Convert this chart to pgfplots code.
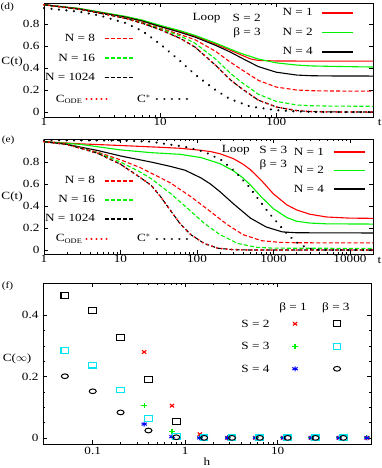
\documentclass[border=0pt]{standalone}
\usepackage{fontspec}
\setmainfont{Liberation Serif}[FakeStretch=1.2]
\usepackage{pgfplots}
\pgfplotsset{compat=1.18}

\definecolor{gred}{rgb}{1,0,0}
\definecolor{ggreen}{rgb}{0,0.95,0}
\definecolor{gblue}{rgb}{0,0,1}
\definecolor{gcyan}{rgb}{0,0.9,0.95}

\pgfplotsset{
  /pgf/number format/assume math mode=true,
  tick align=inside, major tick length=4bp, minor tick length=2bp,
  axis line style={line width=0.7pt},
  every tick/.style={line width=0.6pt, black},
  yticklabel style={xshift=-1bp},
  scale only axis,
  ovlax/.style={hide axis, width=329bp, anchor=north west,
    xmin=0, xmax=1, ymin=0, ymax=1,
    legend plot pos=right, legend cell align=right,
    legend style={draw=none, fill=none, inner sep=0pt, outer sep=0pt,
      row sep=7.5bp, column sep=8bp,
      nodes={inner sep=1bp, text height=8bp, text depth=2bp}}},
  lineleg/.style={legend image code/.code={\draw[##1] (0bp,0bp) -- (#1,0bp);}},
  markleg/.style={legend plot pos=left, legend cell align=left,
    legend image code/.code={\path[draw=none, fill=none] (-8bp,-0.1bp) rectangle (8bp,0.1bp); \draw[##1] plot coordinates {(0bp,0bp)};}},
  sol/.style={line width=1.1bp},
  dsh/.style={line width=1.1bp, dash pattern=on 4bp off 2.2bp},
  odedot/.style={line width=2.1bp, line cap=round, dash pattern=on 0.01bp off 5bp},
  stardot/.style={line width=2.4bp, line cap=round, dash pattern=on 0.01bp off 7.5bp},
  mx/.style={only marks, gred, mark=x, mark size=2.4bp, line width=1.1bp, mark options={xscale=1.25}},
  mp/.style={only marks, ggreen, mark=+, mark size=2.5bp, line width=1.1bp, mark options={xscale=1.2}},
  ma/.style={only marks, gblue, mark=asterisk, mark size=2.5bp, line width=1bp, mark options={xscale=1.25}},
  msq/.style={only marks, #1, mark=square, mark size=2.85bp, line width=1.1bp, mark options={xscale=1.35}},
  mo/.style={only marks, black, mark=o, mark size=2.35bp, line width=1bp, mark options={xscale=1.5}},
}

\begin{document}
\begin{tikzpicture}[font=\fontsize{11bp}{13bp}\selectfont]
\useasboundingbox (0,0) rectangle (382bp,-468bp);

% ---------------- (d)
\begin{axis}[xmode=log, width=329bp, at={(44bp,-3bp)}, anchor=north west, height=114bp,
  clip=false,
  xmin=1, xmax=680, ymin=-0.045, ymax=0.991,
  xtick={1,10,100}, xticklabels={1,10,100},
  xticklabel style={yshift=2.5bp},
  ytick={0,0.2,0.4,0.6,0.8}]
\addplot[gred, sol] coordinates {(1,0.975)(2,0.94)(3,0.907)(5,0.866)(7,0.832)(10,0.782)(15,0.732)(20,0.69)(30,0.617)(40,0.563)(50,0.518)(60,0.483)(70,0.469)(100,0.464)(200,0.463)(680,0.463)};
\addplot[ggreen, sol] coordinates {(1,0.975)(2,0.942)(3,0.91)(5,0.87)(7,0.836)(10,0.788)(15,0.738)(20,0.697)(30,0.627)(40,0.573)(50,0.532)(70,0.482)(100,0.447)(150,0.427)(200,0.419)(300,0.415)(680,0.409)};
\addplot[black, sol] coordinates {(1,0.975)(2,0.938)(3,0.905)(5,0.863)(7,0.827)(10,0.777)(15,0.723)(20,0.681)(30,0.606)(40,0.546)(50,0.492)(70,0.413)(100,0.362)(150,0.336)(200,0.33)(300,0.328)(680,0.327)};
\addplot[gred, dsh] coordinates {(1,0.975)(2,0.936)(3,0.902)(5,0.858)(7,0.818)(10,0.763)(15,0.703)(20,0.657)(30,0.552)(40,0.455)(50,0.387)(70,0.288)(100,0.227)(150,0.2)(200,0.194)(300,0.191)(680,0.19)};
\addplot[ggreen, dsh] coordinates {(1,0.975)(2,0.935)(3,0.9)(5,0.855)(7,0.812)(10,0.757)(15,0.69)(20,0.625)(30,0.482)(40,0.355)(50,0.272)(70,0.162)(100,0.097)(150,0.064)(200,0.057)(300,0.054)(680,0.052)};
\addplot[black, dsh] coordinates {(1,0.975)(2,0.935)(3,0.9)(5,0.852)(7,0.807)(10,0.748)(15,0.668)(20,0.59)(30,0.425)(40,0.295)(50,0.215)(70,0.108)(100,0.046)(150,0.013)(200,0.004)(300,0.001)(680,0)};
\addplot[gred, odedot] coordinates {(1,0.975)(2,0.935)(3,0.9)(5,0.852)(7,0.807)(10,0.748)(15,0.668)(20,0.59)(30,0.425)(40,0.295)(50,0.215)(70,0.108)(100,0.046)(150,0.013)(200,0.004)(300,0.001)(680,0)};
\addplot[black, stardot] coordinates {(1,0.945)(2,0.912)(3,0.878)(5,0.81)(7,0.738)(10,0.618)(15,0.46)(20,0.34)(25,0.262)(30,0.2)(40,0.118)(60,0.05)(100,0.017)(150,0.005)(200,0.001)(300,0)(680,0)};
\node at (rel axis cs:-0.097,0.48) {C(t)};
\node at (rel axis cs:1.02,-0.044) {t};
\node[font=\fontsize{9.5bp}{11bp}\selectfont] at (rel axis cs:-0.112,0.96) {(d)};
\node at (rel axis cs:0.494,0.868) {Loop};
\node at (rel axis cs:0.616,0.868) {S = 2};
\node at (rel axis cs:0.617,0.74) {β = 3};
\end{axis}
\begin{axis}[ovlax, at={(44bp,-3bp)}, height=114bp, lineleg=31bp,
  legend style={at={(0.942,0.965)}, anchor=north east}]
\addlegendimage{gred, sol}\addlegendentry{N = 1}
\addlegendimage{ggreen, sol}\addlegendentry{N = 2}
\addlegendimage{black, sol}\addlegendentry{N = 4}
\end{axis}
\begin{axis}[ovlax, at={(44bp,-3bp)}, height=114bp, lineleg=30bp,
  legend style={at={(0.277,0.741)}, anchor=north east}]
\addlegendimage{gred, dsh}\addlegendentry{N = 8}
\addlegendimage{ggreen, dsh}\addlegendentry{N = 16}
\addlegendimage{black, dsh}\addlegendentry{N = 1024}
\end{axis}
\begin{axis}[ovlax, at={(44bp,-3bp)}, height=114bp, lineleg=25bp,
  legend style={at={(0.033,0.21)}, anchor=north west, column sep=2.5bp}]
\addlegendimage{gred, odedot}\addlegendentry{C\raisebox{-0.35ex}{\fontsize{7bp}{8bp}\selectfont ODE}}
\end{axis}
\begin{axis}[ovlax, at={(44bp,-3bp)}, height=114bp, lineleg=32bp,
  legend style={at={(0.28,0.21)}, anchor=north west, column sep=4bp}]
\addlegendimage{black, stardot}\addlegendentry{C$^{*}$}
\end{axis}

% ---------------- (e)
\begin{axis}[xmode=log, width=329bp, at={(44bp,-139bp)}, anchor=north west, height=115bp,
  clip=false,
  xmin=1, xmax=20000, ymin=-0.036, ymax=1.009,
  xtick={1,10,100,1000,10000}, xticklabels={1,10,100,1000,10000},
  xticklabel style={yshift=2.5bp},
  ytick={0,0.2,0.4,0.6,0.8}]
\addplot[gred, sol] coordinates {(1,0.985)(3,0.965)(10,0.95)(30,0.935)(60,0.925)(100,0.91)(150,0.895)(200,0.875)(300,0.83)(400,0.78)(500,0.73)(700,0.63)(1000,0.51)(1500,0.41)(2000,0.365)(3000,0.325)(5000,0.3)(10000,0.29)(20000,0.288)};
\addplot[ggreen, sol] coordinates {(1,0.985)(3,0.96)(10,0.91)(25,0.885)(60,0.87)(113,0.84)(200,0.785)(300,0.72)(400,0.655)(500,0.59)(700,0.48)(1000,0.375)(1500,0.295)(2000,0.262)(3000,0.245)(5000,0.238)(20000,0.236)};
\addplot[black, sol] coordinates {(1,0.985)(2,0.96)(5,0.905)(10,0.855)(25,0.8)(45,0.76)(70,0.725)(113,0.655)(150,0.6)(200,0.53)(300,0.42)(500,0.29)(800,0.21)(1300,0.165)(2000,0.157)(20000,0.155)};
\addplot[gred, dsh] coordinates {(1,0.985)(2,0.96)(5,0.89)(10,0.82)(18,0.75)(25,0.7)(45,0.61)(83,0.485)(150,0.35)(250,0.23)(400,0.14)(700,0.085)(1200,0.07)(2000,0.066)(20000,0.065)};
\addplot[ggreen, dsh] coordinates {(1,0.985)(2,0.96)(5,0.885)(10,0.8)(18,0.71)(25,0.65)(45,0.515)(75,0.38)(124,0.243)(200,0.14)(340,0.06)(600,0.025)(1000,0.017)(20000,0.015)};
\addplot[black, dsh] coordinates {(1,0.985)(2,0.96)(5,0.88)(10,0.78)(18,0.66)(25,0.59)(33,0.49)(45,0.36)(60,0.24)(83,0.14)(124,0.06)(186,0.017)(300,0.003)(500,0)(20000,0)};
\addplot[gred, odedot] coordinates {(1,0.985)(2,0.96)(5,0.88)(10,0.78)(18,0.66)(25,0.59)(33,0.49)(45,0.36)(60,0.24)(83,0.14)(124,0.06)(186,0.017)(300,0.003)(500,0)(20000,0)};
\addplot[black, stardot] coordinates {(1,0.998)(10,0.995)(25,0.985)(34,0.97)(68,0.94)(124,0.894)(206,0.82)(307,0.72)(460,0.59)(622,0.47)(842,0.35)(1195,0.227)(1540,0.14)(2080,0.06)(2840,0.015)(4000,0.002)(6000,0)(20000,0)};
\node at (rel axis cs:-0.097,0.496) {C(t)};
\node at (rel axis cs:1.02,-0.052) {t};
\node[font=\fontsize{9.5bp}{11bp}\selectfont] at (rel axis cs:-0.109,0.99) {(e)};
\node at (rel axis cs:0.583,0.904) {Loop};
\node at (rel axis cs:0.697,0.904) {S = 3};
\node at (rel axis cs:0.697,0.774) {β = 3};
\end{axis}
\begin{axis}[ovlax, at={(44bp,-139bp)}, height=115bp, lineleg=31bp,
  legend style={at={(0.976,0.939)}, anchor=north east, row sep=6.5bp}]
\addlegendimage{gred, sol}\addlegendentry{N = 1}
\addlegendimage{ggreen, sol}\addlegendentry{N = 2}
\addlegendimage{black, sol}\addlegendentry{N = 4}
\end{axis}
\begin{axis}[ovlax, at={(44bp,-139bp)}, height=115bp, lineleg=30bp,
  legend style={at={(0.277,0.687)}, anchor=north east, row sep=7bp}]
\addlegendimage{gred, dsh}\addlegendentry{N = 8}
\addlegendimage{ggreen, dsh}\addlegendentry{N = 16}
\addlegendimage{black, dsh}\addlegendentry{N = 1024}
\end{axis}
\begin{axis}[ovlax, at={(44bp,-139bp)}, height=115bp, lineleg=25bp,
  legend style={at={(0.033,0.183)}, anchor=north west, column sep=2.5bp}]
\addlegendimage{gred, odedot}\addlegendentry{C\raisebox{-0.35ex}{\fontsize{7bp}{8bp}\selectfont ODE}}
\end{axis}
\begin{axis}[ovlax, at={(44bp,-139bp)}, height=115bp, lineleg=32bp,
  legend style={at={(0.28,0.183)}, anchor=north west, column sep=4bp}]
\addlegendimage{black, stardot}\addlegendentry{C$^{*}$}
\end{axis}

% ---------------- (f)
\begin{axis}[xmode=log, at={(43bp,-283bp)}, anchor=north west, width=328bp, height=161bp,
  clip=false,
  xmin=0.029, xmax=102, ymin=-0.02, ymax=0.505,
  xtick={0.1,1,10}, xticklabels={0.1,1,10},
  ytick={0,0.2,0.4}, minor y tick num=3]
\addplot[mx] coordinates {(0.36,0.28)(0.72,0.105)(1.44,0.012)(2.88,0)(5.76,0)(11.52,0)(23.04,0)(46.08,0)(92.16,0)};
\addplot[mp] coordinates {(0.36,0.107)(0.72,0.02)(1.44,0)(2.88,0)(5.76,0)(11.52,0)(23.04,0)(46.08,0)(92.16,0)};
\addplot[ma] coordinates {(0.36,0.045)(0.72,0.004)(1.44,0)(2.88,0)(5.76,0)(11.52,0)(23.04,0)(46.08,0)(92.16,0)};
\addplot[msq=black] coordinates {(0.05,0.464)(0.1,0.415)(0.2,0.327)(0.4,0.19)(0.8,0.053)(1.6,0)(3.2,0)(6.4,0)(12.8,0)(25.6,0)(51.2,0)};
\addplot[msq=gcyan] coordinates {(0.05,0.285)(0.1,0.237)(0.2,0.156)(0.4,0.064)(0.8,0.005)(1.6,0)(3.2,0)(6.4,0)(12.8,0)(25.6,0)(51.2,0)};
\addplot[mo] coordinates {(0.05,0.201)(0.1,0.152)(0.2,0.083)(0.4,0.024)(0.8,0.002)(1.6,0)(3.2,0)(6.4,0)(12.8,0)(25.6,0)(51.2,0)};
\node at (rel axis cs:-0.079,0.526) {C(\ensuremath{\infty})};
\node at (rel axis cs:0.5,-0.11) {h};
\node[font=\fontsize{9.5bp}{11bp}\selectfont] at (rel axis cs:-0.108,0.978) {(f)};
\node at (rel axis cs:0.762,0.845) {β = 1};
\node at (rel axis cs:0.893,0.845) {β = 3};
\node[anchor=east] at (rel axis cs:0.701,0.745) {S = 2};
\node[anchor=east] at (rel axis cs:0.701,0.609) {S = 3};
\node[anchor=east] at (rel axis cs:0.701,0.466) {S = 4};
\end{axis}
\begin{axis}[ovlax, markleg, at={(43bp,-283bp)}, width=328bp, height=161bp,
  legend style={at={(0.744,0.784)}, anchor=north west, row sep=10.5bp, column sep=0bp}]
\addlegendimage{mx}\addlegendentry{}
\addlegendimage{mp}\addlegendentry{}
\addlegendimage{ma}\addlegendentry{}
\end{axis}
\begin{axis}[ovlax, markleg, at={(43bp,-283bp)}, width=328bp, height=161bp,
  legend style={at={(0.872,0.784)}, anchor=north west, row sep=10.5bp, column sep=0bp}]
\addlegendimage{msq=black}\addlegendentry{}
\addlegendimage{msq=gcyan}\addlegendentry{}
\addlegendimage{mo}\addlegendentry{}
\end{axis}
\end{tikzpicture}
\end{document}
